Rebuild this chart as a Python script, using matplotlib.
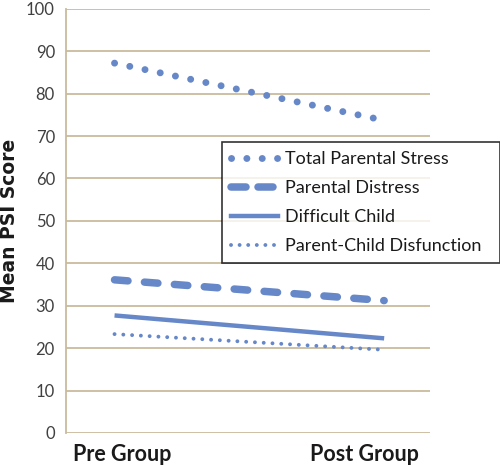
import matplotlib.pyplot as plt
from matplotlib.lines import Line2D

groups = ["Pre Group", "Post Group"]
series_names = ["Total Parental Stress", "Parental Distress", "Difficult Child", "Parent-Child Disfunction"]
total_stress = [87.2, 73.7]
parental_distress = [36.1, 31.2]
difficult_child = [27.7, 22.3]
parent_child = [23.3, 19.6]

blue = "#6688c8"
tan = "#c9bb9c"

plt.rcParams['font.family'] = ['Lato', 'DejaVu Sans']

fig = plt.figure(figsize=(5.0, 4.66), dpi=100)
ax = fig.add_axes([0.132, 0.071, 0.728, 0.91])

x = [0, 1]
styles = [
    dict(lw=5.0, linestyle=(0, (0.01, 2.23)), dash_capstyle='round'),
    dict(lw=5.4, linestyle=(0, (1.8, 2.2)), dash_capstyle='round'),
    dict(lw=3.2, linestyle='-', solid_capstyle='butt'),
    dict(lw=2.8, linestyle=(0, (0.01, 2.25)), dash_capstyle='round'),
]
data = [total_stress, parental_distress, difficult_child, parent_child]
for name, vals, st in zip(series_names, data, styles):
    ax.plot(x, vals, color=blue, label=name, **st)

ax.set_xlim(-0.18, 1.17)
ax.set_ylim(0, 100)
ax.set_yticks(range(0, 101, 10))
# category labels sit a bit inside the line ends, like the original
ax.set_xticks([0.03, 0.927])
ax.set_xticklabels(groups, fontsize=15.5, fontweight='bold', color='#1a1a1a')
ax.tick_params(axis='x', length=0, pad=8)
ax.tick_params(axis='y', length=0, pad=8, labelsize=12, labelcolor='#404040')
ax.yaxis.grid(True, color=tan, lw=1.3)
ax.set_axisbelow(True)
for s in ['top', 'right', 'bottom']:
    ax.spines[s].set_visible(False)
ax.spines['left'].set_color(tan)
ax.spines['left'].set_linewidth(1.3)
ax.set_ylabel("Mean PSI Score", fontsize=13.5, fontweight='bold', color='#1a1a1a',
              labelpad=5, family='DejaVu Sans')

handles = [
    Line2D([], [], color=blue, lw=5.0, linestyle=(0, (0.01, 2.2)), dash_capstyle='round'),
    Line2D([], [], color=blue, lw=5.4, linestyle=(0, (2.0, 1.6)), dash_capstyle='round'),
    Line2D([], [], color=blue, lw=3.2, linestyle='-'),
    Line2D([], [], color=blue, lw=2.8, linestyle=(0, (0.01, 2.2)), dash_capstyle='round'),
]
leg = ax.legend(handles, series_names, loc='upper left',
                bbox_to_anchor=(0.429, 0.413, 0.764, 0.273), mode='expand',
                fontsize=13, frameon=True, fancybox=False, edgecolor='black',
                handlelength=2.6, handletextpad=0.4, borderpad=0.5, labelspacing=0.72,
                borderaxespad=0)
leg.get_frame().set_linewidth(1.2)
leg.set_clip_on(False)
for t in leg.get_texts():
    t.set_color('#1a1a1a')

fig.savefig("out.png", dpi=100)
